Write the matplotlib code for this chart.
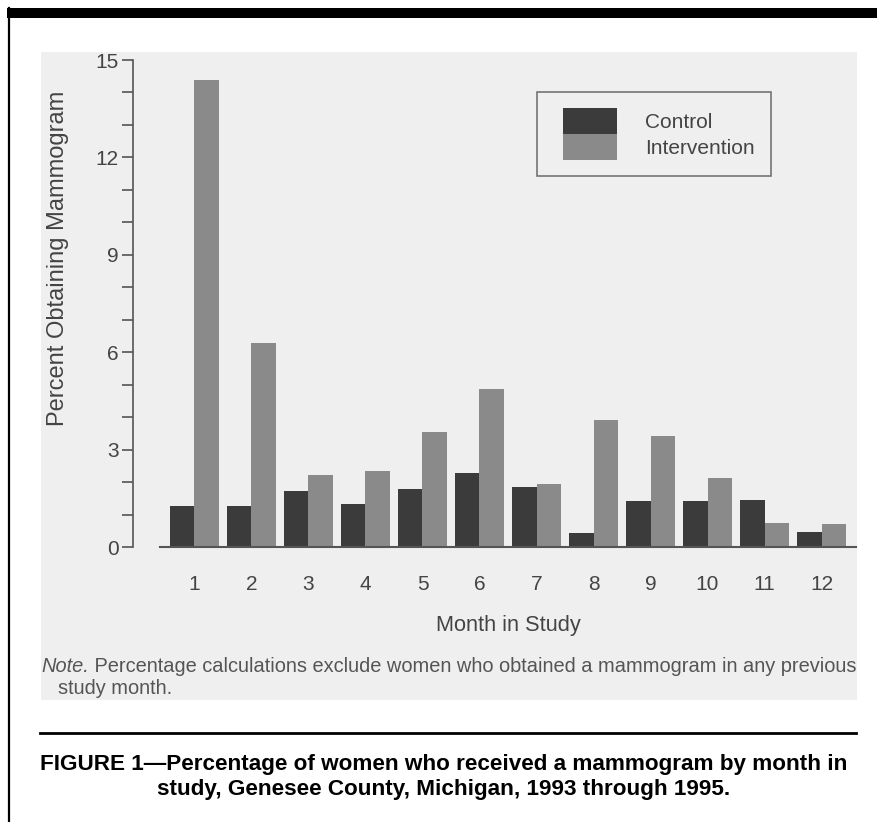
import matplotlib
matplotlib.use("Agg")
import matplotlib.pyplot as plt
from matplotlib.patches import Rectangle
from matplotlib.lines import Line2D
from matplotlib.legend_handler import HandlerPatch, update_from_first_child
from matplotlib.container import BarContainer
import numpy as np

plt.rcParams['font.family'] = ['Liberation Sans', 'DejaVu Sans']

months = [1, 2, 3, 4, 5, 6, 7, 8, 9, 10, 11, 12]
month_labels = ["1", "2", "3", "4", "5", "6", "7", "8", "9", "10", "11", "12"]
control = [1.25, 1.27, 1.73, 1.31, 1.80, 2.27, 1.86, 0.44, 1.42, 1.43, 1.46, 0.47]
intervention = [14.38, 6.28, 2.23, 2.33, 3.54, 4.87, 1.93, 3.90, 3.42, 2.11, 0.73, 0.71]
series_names = ["Control", "Intervention"]
y_major = [0, 3, 6, 9, 12, 15]

W, H = 878, 822
fig = plt.figure(figsize=(W / 100, H / 100), dpi=100)
fig.patch.set_facecolor("white")

def fx(px):
    return px / W

def fy(py):
    return 1 - py / H

# scanned page background region
fig.patches.append(Rectangle((fx(41), fy(700)), fx(857) - fx(41), fy(52) - fy(700),
                             transform=fig.transFigure, facecolor="#efefef",
                             edgecolor="none", zorder=-5))
# top thick black rule
fig.patches.append(Rectangle((fx(7), fy(18)), 1 - fx(7), fy(8) - fy(18),
                             transform=fig.transFigure, facecolor="black",
                             edgecolor="none", zorder=-4))
# left border line
fig.lines.append(Line2D([fx(8.5), fx(8.5)], [fy(8), 0], transform=fig.transFigure,
                        color="black", lw=1.6, zorder=-4))
# separator line
fig.lines.append(Line2D([fx(40), fx(856)], [fy(733), fy(733)], transform=fig.transFigure,
                        color="black", lw=2.0, zorder=-4))

ax = fig.add_axes([fx(160), fy(547), fx(856) - fx(160), fy(60) - fy(547)])
ax.set_facecolor("none")
ax.set_zorder(2)

x = np.array(months, dtype=float)
w = 0.43
c_ctrl = "#3b3b3b"
c_int = "#8a8a8a"
ax.bar(x - w / 2, control, width=w, color=c_ctrl, edgecolor="none", label=series_names[0], zorder=2)
ax.bar(x + w / 2, intervention, width=w, color=c_int, edgecolor="none", label=series_names[1], zorder=2)

ax.set_xlim(0.395, 12.605)
ax.set_ylim(0, 15)
ax.axhline(0, color="#555555", lw=1.5, zorder=3, clip_on=False)

for s in ["top", "right", "bottom"]:
    ax.spines[s].set_visible(False)
ax.spines["left"].set_position(("outward", 27 * 72 / 100))
ax.spines["left"].set_color("#555555")
ax.spines["left"].set_linewidth(1.2)

ax.set_yticks(y_major)
ax.set_yticks(np.arange(0, 16, 1), minor=True)
ax.tick_params(axis="y", which="both", direction="out", length=8, width=1.2,
               color="#555555", labelcolor="#444444", labelsize=15, pad=2.5)
ax.set_xticks(x)
ax.set_xticklabels(month_labels)
ax.tick_params(axis="x", length=0, pad=20, labelsize=15, labelcolor="#444444")

ax.set_xlabel("Month in Study", fontsize=15.7, color="#444444", labelpad=15)
ax.set_ylabel("Percent Obtaining Mammogram", fontsize=17, color="#444444")
ax.yaxis.set_label_coords(-0.131, 0.593)

fs = 15.0
fs_px = fs * 100 / 72
hh = (26.0 / fs_px - 0.245) / 0.65
hm = {BarContainer: HandlerPatch(xpad=10 / fs_px, update_func=update_from_first_child)}
leg = ax.legend(loc="upper left", bbox_to_anchor=(fx(537), fy(92)),
                bbox_transform=fig.transFigure, fontsize=fs, frameon=True,
                fancybox=False, handlelength=64 / fs_px, handleheight=hh,
                labelspacing=0.0, handletextpad=28 / fs_px, borderpad=16 / fs_px,
                borderaxespad=0, handler_map=hm)
leg.get_frame().set_edgecolor("#555555")
leg.get_frame().set_linewidth(1.2)
leg.get_frame().set_facecolor("#efefef")
for t in leg.get_texts():
    t.set_color("#444444")

note_fs = 14.4
note1 = fig.text(fx(41), fy(672), "Note.", fontsize=note_fs, style="italic",
                 color="#555555", ha="left", va="baseline")
fig.canvas.draw()
rest = fig.text(0, 0, " Percentage calculations exclude women who obtained a mammogram in any previous",
                fontsize=note_fs, color="#555555", ha="left", va="bottom")
bb = note1.get_window_extent()
rest.set_position((bb.x1 / W, bb.y0 / H))
fig.text(fx(58), fy(694), "study month.", fontsize=note_fs, color="#555555",
         ha="left", va="baseline")

fig.text(fx(444), fy(770), "FIGURE 1\u2014Percentage of women who received a mammogram by month in",
         fontsize=16.2, fontweight="bold", color="black", ha="center", va="baseline")
fig.text(fx(444), fy(795), "study, Genesee County, Michigan, 1993 through 1995.",
         fontsize=16.2, fontweight="bold", color="black", ha="center", va="baseline")

fig.savefig("out.png", dpi=100, facecolor="white")
